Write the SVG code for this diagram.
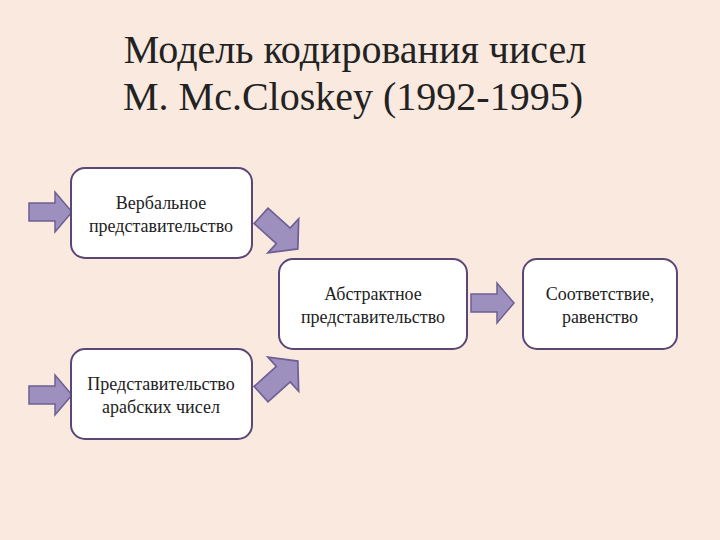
<svg xmlns="http://www.w3.org/2000/svg" width="720" height="540" viewBox="0 0 720 540">
<style>
.box{fill:#fff;stroke:#5a4775;stroke-width:2}
.t{font-family:"Liberation Serif",serif;font-size:18px;fill:#222;text-anchor:middle}
.ttl{font-family:"Liberation Serif",serif;font-size:40px;fill:#222;text-anchor:middle}
.ar{fill:#9d90bf;stroke:#6e5f94;stroke-width:1.5}
</style>
<defs><polygon id="a" points="-21,-9 5,-9 5,-20 22,0 5,20 5,9 -21,9"/></defs>
<rect width="720" height="540" fill="#f9e9df"/>
<text class="ttl" x="355" y="63">Модель кодирования чисел</text>
<text class="ttl" x="353" y="110">M. Mc.Closkey (1992-1995)</text>
<g id="connectors">
<use href="#a" class="ar" transform="translate(50,212)"/>
<use href="#a" class="ar" transform="translate(50,395)"/>
<use href="#a" class="ar" transform="translate(279,232) rotate(42) scale(1.15)"/>
<use href="#a" class="ar" transform="translate(279,378) rotate(-42) scale(1.15)"/>
<use href="#a" class="ar" transform="translate(492,303)"/>
</g>
<g id="n1"><rect class="box" x="71" y="168" width="181" height="90" rx="14"/>
<text class="t" x="161" y="209">Вербальное</text><text class="t" x="161" y="232">представительство</text></g>
<g id="n2"><rect class="box" x="279" y="259" width="188" height="90" rx="14"/>
<text class="t" x="373" y="300">Абстрактное</text><text class="t" x="373" y="323">представительство</text></g>
<g id="n3"><rect class="box" x="523" y="259" width="154" height="90" rx="14"/>
<text class="t" x="600" y="300">Соответствие,</text><text class="t" x="600" y="323">равенство</text></g>
<g id="n4"><rect class="box" x="71" y="349" width="181" height="90" rx="14"/>
<text class="t" x="161" y="390">Представительство</text><text class="t" x="161" y="413">арабских чисел</text></g>
</svg>
